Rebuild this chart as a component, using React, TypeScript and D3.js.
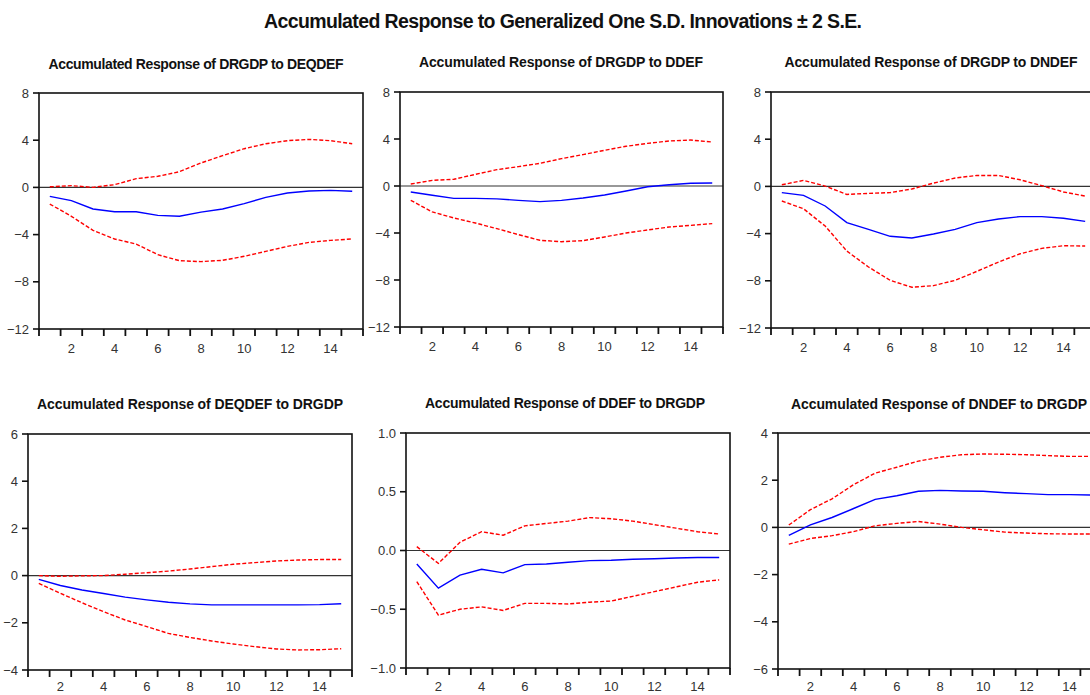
import React from "react";
import * as d3 from "d3";

// horizon (periods) and x labels
const periods = [1, 2, 3, 4, 5, 6, 7, 8, 9, 10, 11, 12, 13, 14, 15];
const xTickLabels = [2, 4, 6, 8, 10, 12, 14];

// y ticks per response variable
const yTicksDrgdp = [-12, -8, -4, 0, 4, 8];
const yTicksDeqdef = [-4, -2, 0, 2, 4, 6];
const yTicksDdef = [-1, -0.5, 0, 0.5, 1];
const yTicksDndef = [-6, -4, -2, 0, 2, 4];

// DRGDP to DEQDEF
const drgdpDeqdef = [-0.76, -1.12, -1.83, -2.06, -2.06, -2.37, -2.45, -2.1, -1.83, -1.38, -0.84, -0.47, -0.31, -0.25, -0.33];
const drgdpDeqdefHi = [0.05, 0.15, 0.0, 0.23, 0.74, 0.94, 1.33, 2.07, 2.69, 3.28, 3.7, 3.96, 4.07, 3.96, 3.7];
const drgdpDeqdefLo = [-1.41, -2.45, -3.64, -4.37, -4.8, -5.7, -6.21, -6.29, -6.18, -5.84, -5.42, -5.0, -4.66, -4.49, -4.37];

// DRGDP to DDEF
const drgdpDdef = [-0.51, -0.79, -1.05, -1.05, -1.1, -1.22, -1.33, -1.22, -1.02, -0.77, -0.43, -0.06, 0.11, 0.23, 0.26];
const drgdpDdefHi = [0.17, 0.48, 0.57, 0.99, 1.39, 1.65, 1.93, 2.33, 2.67, 3.04, 3.38, 3.63, 3.83, 3.91, 3.74];
const drgdpDdefLo = [-1.22, -2.21, -2.72, -3.15, -3.63, -4.14, -4.62, -4.74, -4.65, -4.34, -4.0, -3.74, -3.49, -3.35, -3.2];

// DRGDP to DNDEF
const drgdpDndef = [-0.53, -0.76, -1.66, -3.07, -3.64, -4.23, -4.37, -4.03, -3.64, -3.07, -2.76, -2.56, -2.56, -2.7, -2.96];
const drgdpDndefHi = [0.14, 0.51, 0.03, -0.68, -0.59, -0.53, -0.22, 0.28, 0.71, 0.93, 0.93, 0.56, 0.06, -0.47, -0.82];
const drgdpDndefLo = [-1.24, -1.89, -3.36, -5.48, -6.83, -7.96, -8.55, -8.41, -7.96, -7.2, -6.41, -5.71, -5.25, -5.03, -5.05];

// DEQDEF to DRGDP
const deqdefDrgdp = [-0.16, -0.42, -0.61, -0.76, -0.91, -1.03, -1.13, -1.2, -1.24, -1.24, -1.24, -1.24, -1.24, -1.23, -1.19];
const deqdefDrgdpHi = [0.0, -0.03, -0.01, 0.0, 0.06, 0.12, 0.19, 0.28, 0.38, 0.48, 0.55, 0.62, 0.66, 0.68, 0.68];
const deqdefDrgdpLo = [-0.33, -0.75, -1.15, -1.53, -1.88, -2.16, -2.45, -2.62, -2.77, -2.9, -3.01, -3.11, -3.15, -3.14, -3.1];

// DDEF to DRGDP
const ddefDrgdp = [-0.115, -0.32, -0.21, -0.16, -0.19, -0.12, -0.115, -0.1, -0.086, -0.083, -0.075, -0.07, -0.064, -0.06, -0.06];
const ddefDrgdpHi = [0.033, -0.11, 0.07, 0.16, 0.13, 0.21, 0.23, 0.25, 0.28, 0.27, 0.25, 0.22, 0.19, 0.16, 0.14];
const ddefDrgdpLo = [-0.265, -0.55, -0.5, -0.48, -0.51, -0.45, -0.45, -0.455, -0.44, -0.43, -0.39, -0.35, -0.31, -0.27, -0.25];

// DNDEF to DRGDP
const dndefDrgdp = [-0.34, 0.11, 0.42, 0.8, 1.19, 1.34, 1.53, 1.57, 1.54, 1.53, 1.47, 1.43, 1.39, 1.39, 1.37];
const dndefDrgdpHi = [0.1, 0.75, 1.21, 1.81, 2.3, 2.55, 2.81, 2.97, 3.08, 3.11, 3.1, 3.08, 3.04, 3.01, 3.01];
const dndefDrgdpLo = [-0.71, -0.47, -0.35, -0.18, 0.07, 0.17, 0.25, 0.14, 0.0, -0.1, -0.2, -0.24, -0.27, -0.28, -0.28];

const FONT = "'Liberation Sans Narrow', 'Arial Narrow', 'Liberation Sans', Arial, sans-serif";

const panels = [
  { title: "Accumulated Response of DRGDP to DEQDEF", tx: 196, ty: 69, tw: 295, box: [39, 363, 93, 329], ticks: yTicksDrgdp, fmt: d3.format("d"), mid: drgdpDeqdef, hi: drgdpDeqdefHi, lo: drgdpDeqdefLo },
  { title: "Accumulated Response of DRGDP to DDEF", tx: 561, ty: 67, tw: 284, box: [400, 723, 92, 327], ticks: yTicksDrgdp, fmt: d3.format("d"), mid: drgdpDdef, hi: drgdpDdefHi, lo: drgdpDdefLo },
  { title: "Accumulated Response of DRGDP to DNDEF", tx: 931, ty: 67, tw: 293, box: [771, 1096, 92, 328], ticks: yTicksDrgdp, fmt: d3.format("d"), mid: drgdpDndef, hi: drgdpDndefHi, lo: drgdpDndefLo },
  { title: "Accumulated Response of DEQDEF to DRGDP", tx: 190, ty: 409, tw: 306, box: [28, 352, 434, 670], ticks: yTicksDeqdef, fmt: d3.format("d"), mid: deqdefDrgdp, hi: deqdefDrgdpHi, lo: deqdefDrgdpLo },
  { title: "Accumulated Response of DDEF to DRGDP", tx: 565, ty: 408, tw: 280, box: [406, 730, 433, 668], ticks: yTicksDdef, fmt: d3.format(".1f"), mid: ddefDrgdp, hi: ddefDrgdpHi, lo: ddefDrgdpLo },
  { title: "Accumulated Response of DNDEF to DRGDP", tx: 939, ty: 409, tw: 296, box: [778, 1102, 433, 669], ticks: yTicksDndef, fmt: d3.format("d"), mid: dndefDrgdp, hi: dndefDrgdpHi, lo: dndefDrgdpLo },
];

const Panel = ({ p }) => {
  const [left, right, top, bottom] = p.box;
  const x = d3.scaleBand<number>().domain(periods).range([left, right]);
  const y = d3.scaleLinear().domain(d3.extent(p.ticks) as [number, number]).range([bottom, top]);
  const cx = (i: number) => (x(periods[i]) as number) + x.bandwidth() / 2;
  const line = d3.line<number>().x((d, i) => cx(i)).y(d => y(d));
  const bounds = periods.map(d => x(d) as number).concat([right]);
  const labelY = Math.min(bottom + 24, 691);

  return (
    <g>
      <text x={p.tx} y={p.ty} textAnchor="middle" fontFamily={FONT} fontWeight="bold" fontSize="14"
        textLength={p.tw} lengthAdjust="spacing" fill="#111">{p.title}</text>
      <line x1={left} x2={right} y1={y(0)} y2={y(0)} stroke="#333" strokeWidth="1.2" />
      <path d={line(p.hi) || ""} fill="none" stroke="#ff0000" strokeWidth="1.4" strokeDasharray="4 2" />
      <path d={line(p.lo) || ""} fill="none" stroke="#ff0000" strokeWidth="1.4" strokeDasharray="4 2" />
      <path d={line(p.mid) || ""} fill="none" stroke="#0000ff" strokeWidth="1.4" />
      <rect x={left} y={top} width={right - left} height={bottom - top} fill="none" stroke="#111" strokeWidth="1.6" />
      {p.ticks.map(t => (
        <g key={t}>
          <line x1={left - 6} x2={left} y1={y(t)} y2={y(t)} stroke="#111" strokeWidth="1.6" />
          <text x={left - 10} y={y(t) + 4.5} textAnchor="end" fontFamily={FONT} fontSize="13" fill="#333">{p.fmt(t)}</text>
        </g>
      ))}
      {bounds.map((b, i) => (
        <line key={i} x1={b} x2={b} y1={bottom} y2={bottom + 7} stroke="#111" strokeWidth="1.8" />
      ))}
      {xTickLabels.map(t => (
        <text key={t} x={cx(t - 1)} y={labelY} textAnchor="middle" fontFamily={FONT} fontSize="13" fill="#333">{t}</text>
      ))}
    </g>
  );
};

const App = () => (
  <svg width={1090} height={695} style={{ position: "absolute", left: 0, top: 0, background: "#fff" }}>
    <text x={563} y={28} textAnchor="middle" fontFamily={FONT} fontWeight="bold" fontSize="19.5"
      textLength={598} lengthAdjust="spacing" fill="#111">
      Accumulated Response to Generalized One S.D. Innovations ± 2 S.E.
    </text>
    {panels.map((p, i) => <Panel key={i} p={p} />)}
  </svg>
);

export default App;
